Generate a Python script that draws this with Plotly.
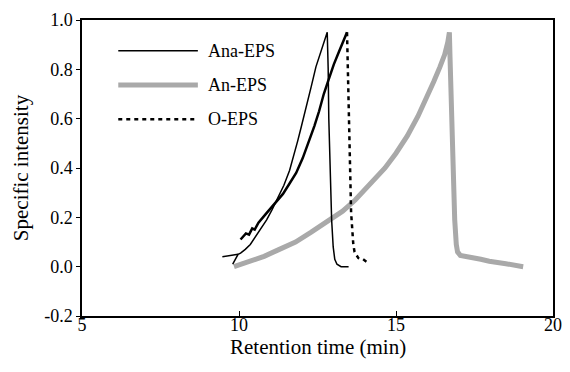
import plotly.graph_objects as go

# ---- data ----
ana_x = [9.47, 9.7, 9.97, 9.8, 9.97, 10.05, 10.2, 10.36, 10.52, 10.68, 10.88, 11.05, 11.25, 11.43, 11.61, 11.75, 11.87,
         11.98, 12.08, 12.18, 12.3, 12.45, 12.57, 12.68, 12.76, 12.81,
         12.84, 12.86, 12.95, 13.0, 13.05, 13.12, 13.25, 13.49]
ana_y = [0.04, 0.045, 0.05, 0.01, 0.05, 0.055, 0.07, 0.09, 0.12, 0.15, 0.19, 0.23, 0.28, 0.33, 0.39, 0.45, 0.51,
         0.565, 0.62, 0.67, 0.73, 0.81, 0.86, 0.905, 0.935, 0.95,
         0.80, 0.60, 0.19, 0.08, 0.03, 0.01, 0.0, 0.0]

oeps_rise_x = [10.05, 10.15, 10.22, 10.32, 10.42, 10.5, 10.62, 10.83, 10.97, 11.1, 11.25, 11.4, 11.6, 11.82, 12.03,
               12.24, 12.4, 12.55, 12.7, 12.86, 13.02, 13.18, 13.32, 13.44]
oeps_rise_y = [0.11, 0.125, 0.135, 0.13, 0.155, 0.15, 0.178, 0.21, 0.23, 0.25, 0.27, 0.295, 0.335, 0.38, 0.44,
               0.51, 0.57, 0.63, 0.70, 0.76, 0.82, 0.87, 0.915, 0.95]
oeps_fall_x = [13.44, 13.49, 13.57, 13.64, 13.68, 13.8, 13.95, 14.06]
oeps_fall_y = [0.95, 0.68, 0.22, 0.09, 0.06, 0.035, 0.03, 0.02]

an_x = [9.84, 10.1, 10.4, 10.8, 11.25, 11.8, 12.3, 12.92, 13.3, 13.7, 14.0, 14.33, 14.65, 15.0, 15.36, 15.7, 16.0,
        16.2, 16.4, 16.55, 16.65, 16.70,
        16.72, 16.77, 16.82, 16.87, 16.92, 16.96, 17.05, 17.2, 17.4, 17.7, 17.97, 18.5, 19.05]
an_y = [0.0, 0.01, 0.022, 0.042, 0.068, 0.10, 0.14, 0.19, 0.225, 0.27, 0.31, 0.355, 0.40, 0.46, 0.53, 0.61, 0.69,
        0.75, 0.81, 0.86, 0.91, 0.95,
        0.85, 0.60, 0.40, 0.19, 0.09, 0.06, 0.045, 0.04, 0.037, 0.03, 0.022, 0.012, 0.0]

legend_names = ["Ana-EPS", "An-EPS", "O-EPS"]

x_ticks = [5, 10, 15, 20]
y_ticks = [-0.2, 0.0, 0.2, 0.4, 0.6, 0.8, 1.0]
y_tick_text = ["-0.2", "0.0", "0.2", "0.4", "0.6", "0.8", "1.0"]
x_title = "Retention time (min)"
y_title = "Specific intensity"

GRAY = "#a9a9a9"
FONT = "Times New Roman, Liberation Serif, DejaVu Serif, serif"

fig = go.Figure()
fig.add_trace(go.Scatter(x=an_x, y=an_y, mode="lines", line=dict(color=GRAY, width=5),
                         name=legend_names[1], showlegend=False))
fig.add_trace(go.Scatter(x=ana_x, y=ana_y, mode="lines", line=dict(color="black", width=1.5),
                         name=legend_names[0], showlegend=False))
fig.add_trace(go.Scatter(x=oeps_rise_x, y=oeps_rise_y, mode="lines", line=dict(color="black", width=2.5),
                         name=legend_names[2], showlegend=False))
fig.add_trace(go.Scatter(x=oeps_fall_x, y=oeps_fall_y, mode="lines",
                         line=dict(color="black", width=2.5, dash="4px,4px"),
                         name=legend_names[2], showlegend=False))

# manual legend (paper coordinates)
leg_styles = [dict(color="black", width=1.5), dict(color=GRAY, width=5), dict(color="black", width=2.5, dash="4px,4px")]
leg_y = [0.896, 0.780, 0.665]
for name, st, yy in zip(legend_names, leg_styles, leg_y):
    fig.add_shape(type="line", xref="paper", yref="paper", x0=0.077, x1=0.246, y0=yy, y1=yy, line=st)
    fig.add_annotation(xref="paper", yref="paper", x=0.2625, y=yy, text=name, showarrow=False,
                       xanchor="left", yanchor="middle", font=dict(family=FONT, size=18, color="black"))

# x-axis title placed as annotation to match the reference spacing
fig.add_annotation(xref="paper", yref="paper", x=0.5, y=-0.106, text=x_title, showarrow=False,
                   xanchor="center", yanchor="middle", font=dict(family=FONT, size=21, color="black"))

fig.update_layout(
    width=570, height=372,
    margin=dict(l=82, r=8, t=20, b=56),
    paper_bgcolor="white", plot_bgcolor="white",
    font=dict(family=FONT, size=18, color="black"),
)
fig.update_xaxes(range=[5, 20], tickvals=x_ticks, ticks="inside", ticklen=5, tickwidth=1, tickcolor="black",
                 showline=True, linecolor="black", linewidth=1.5, mirror=True, showgrid=False, zeroline=False,
                 ticklabelstandoff=-8,
                 tickfont=dict(family=FONT, size=18))
fig.update_yaxes(range=[-0.2, 1.0], tickvals=y_ticks, ticktext=y_tick_text, ticks="outside", ticklen=4,
                 tickwidth=1, tickcolor="black",
                 showline=True, linecolor="black", linewidth=1.5, mirror=True, showgrid=False, zeroline=False,
                 title=dict(text=y_title, font=dict(family=FONT, size=21), standoff=10),
                 tickfont=dict(family=FONT, size=18))

fig.write_html("out.html")
